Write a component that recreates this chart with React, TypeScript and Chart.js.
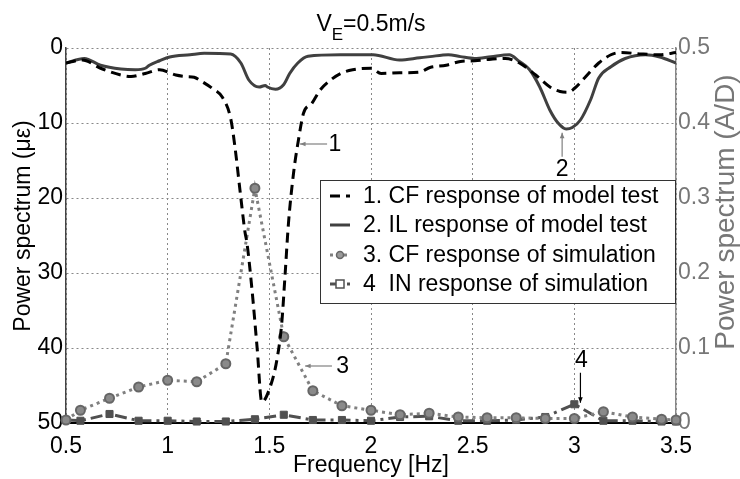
import { useEffect, useRef } from 'react';
import { Chart, registerables } from 'chart.js';

Chart.register(...registerables);

// ---- data ----
const cfTestFreq = [0.50, 0.58, 0.67, 0.77, 0.82, 0.89, 0.96, 1.04, 1.09, 1.13, 1.17, 1.22, 1.27, 1.31, 1.33, 1.36, 1.38, 1.39, 1.415, 1.44, 1.463, 1.504, 1.537, 1.561, 1.578, 1.594, 1.619, 1.643, 1.668, 1.709, 1.75, 1.80, 1.85, 1.91, 2.00, 2.05, 2.14, 2.24, 2.29, 2.37, 2.44, 2.51, 2.59, 2.66, 2.73, 2.81, 2.88, 2.93, 2.97, 3.00, 3.05, 3.12, 3.18, 3.23, 3.33, 3.42, 3.50];
const cfTestValue = [2.0, 1.6, 2.7, 3.6, 3.8, 3.4, 2.9, 3.6, 3.8, 3.9, 4.5, 5.4, 6.6, 9.4, 13.0, 20.0, 24.5, 26.0, 32.3, 40.0, 47.2, 45.2, 41.6, 36.7, 30.0, 23.4, 16.7, 12.3, 8.7, 7.4, 5.6, 4.3, 3.4, 2.9, 2.7, 3.4, 3.3, 3.2, 2.6, 2.3, 1.8, 1.7, 1.5, 1.4, 2.0, 3.6, 5.2, 5.8, 5.9, 5.4, 4.0, 2.0, 0.9, 0.6, 0.8, 0.9, 0.6];

const ilTestFreq = [0.50, 0.59, 0.67, 0.77, 0.84, 0.89, 0.91, 0.96, 1.01, 1.11, 1.18, 1.31, 1.36, 1.40, 1.45, 1.48, 1.49, 1.53, 1.57, 1.60, 1.64, 1.69, 1.85, 2.01, 2.14, 2.24, 2.29, 2.38, 2.44, 2.51, 2.59, 2.68, 2.73, 2.78, 2.83, 2.88, 2.92, 2.96, 2.99, 3.03, 3.08, 3.12, 3.18, 3.25, 3.35, 3.42, 3.50];
const ilTestValue = [2.0, 1.4, 2.3, 2.8, 2.9, 2.7, 2.3, 1.7, 1.2, 0.9, 0.7, 0.8, 2.0, 4.3, 5.2, 5.0, 5.2, 5.5, 4.9, 3.4, 2.0, 1.1, 0.9, 0.9, 1.6, 1.3, 1.15, 0.9, 1.15, 1.4, 1.15, 0.9, 1.8, 2.9, 5.2, 8.3, 10.0, 10.8, 10.6, 9.6, 6.9, 4.0, 2.5, 1.4, 0.9, 1.2, 2.0];

const simFreq = [0.5, 0.571, 0.714, 0.857, 1.0, 1.143, 1.286, 1.429, 1.571, 1.714, 1.857, 2.0, 2.143, 2.286, 2.429, 2.571, 2.714, 2.857, 3.0, 3.143, 3.286, 3.429, 3.5];
const cfSimValue = [0.004, 0.017, 0.033, 0.048, 0.057, 0.055, 0.079, 0.313, 0.115, 0.043, 0.023, 0.017, 0.011, 0.013, 0.008, 0.007, 0.007, 0.006, 0.006, 0.015, 0.008, 0.005, 0.004];
const inSimValue = [0.004, 0.003, 0.012, 0.003, 0.003, 0.002, 0.002, 0.005, 0.011, 0.004, 0.004, 0.003, 0.008, 0.009, 0.003, 0.003, 0.004, 0.008, 0.025, 0.003, 0.003, 0.002, 0.002];

const legendLabels = [
  '1. CF response of model test',
  '2. IL response of model test',
  '3. CF response of simulation',
  '4  IN response of simulation',
];

const xTicks = [0.5, 1, 1.5, 2, 2.5, 3, 3.5];

const FONT = '"Liberation Sans", Arial, Helvetica, sans-serif';

const zip = (xs: number[], ys: number[]) => xs.map((x, i) => ({ x, y: ys[i] }));

const styles = [
  { color: '#000000', width: 3, dash: [10, 6], point: null as any },
  { color: '#404040', width: 3, dash: [] as number[], point: null as any },
  { color: '#808080', width: 3, dash: [3, 4], point: 'circle' },
  { color: '#505050', width: 3, dash: [12, 5, 3, 5], point: 'rect' },
];

function arrow(ctx: CanvasRenderingContext2D, x1: number, y1: number, x2: number, y2: number, color: string) {
  ctx.save();
  ctx.strokeStyle = color;
  ctx.fillStyle = color;
  ctx.lineWidth = 1.2;
  ctx.setLineDash([]);
  ctx.beginPath();
  ctx.moveTo(x1, y1);
  ctx.lineTo(x2, y2);
  ctx.stroke();
  const a = Math.atan2(y2 - y1, x2 - x1);
  const L = 6;
  ctx.beginPath();
  ctx.moveTo(x2, y2);
  ctx.lineTo(x2 - L * Math.cos(a - 0.4), y2 - L * Math.sin(a - 0.4));
  ctx.lineTo(x2 - L * Math.cos(a + 0.4), y2 - L * Math.sin(a + 0.4));
  ctx.closePath();
  ctx.fill();
  ctx.restore();
}

const overlay = {
  id: 'overlay',
  afterDraw(chart: any) {
    const { ctx, chartArea } = chart;
    const sx = chart.scales.x;
    const sy = chart.scales.y;
    const sy1 = chart.scales.y1;
    ctx.save();

    // title with subscript
    ctx.fillStyle = '#000';
    ctx.textBaseline = 'alphabetic';
    const big = `23px ${FONT}`;
    const small = `17px ${FONT}`;
    ctx.font = big;
    const wV = ctx.measureText('V').width;
    const wRest = ctx.measureText('=0.5m/s').width;
    ctx.font = small;
    const wE = ctx.measureText('E').width;
    const total = wV + wE + wRest;
    let tx = (chartArea.left + chartArea.right) / 2 - total / 2;
    const base = 31;
    ctx.font = big;
    ctx.textAlign = 'left';
    ctx.fillText('V', tx, base);
    tx += wV;
    ctx.font = small;
    ctx.fillText('E', tx, base + 9);
    tx += wE;
    ctx.font = big;
    ctx.fillText('=0.5m/s', tx, base);

    // axis titles
    ctx.font = `23px ${FONT}`;
    ctx.fillStyle = '#000';
    ctx.textAlign = 'center';
    ctx.textBaseline = 'middle';
    ctx.fillText('Frequency [Hz]', (chartArea.left + chartArea.right) / 2, 466);

    ctx.save();
    ctx.translate(24, 226);
    ctx.rotate(-Math.PI / 2);
    ctx.fillText('Power spectrum (\u03bc\u03b5)', 0, 0);
    ctx.restore();

    ctx.save();
    ctx.fillStyle = '#777777';
    ctx.font = `28px ${FONT}`;
    ctx.translate(726, 212);
    ctx.rotate(-Math.PI / 2);
    ctx.fillText('Power spectrum (A/D)', 0, 0);
    ctx.restore();

    // annotations
    ctx.font = `23px ${FONT}`;
    ctx.fillStyle = '#000';
    // 1
    arrow(ctx, sx.getPixelForValue(1.784), sy.getPixelForValue(12.8), sx.getPixelForValue(1.651), sy.getPixelForValue(12.8), '#808080');
    ctx.fillText('1', sx.getPixelForValue(1.822), sy.getPixelForValue(12.9));
    // 2
    arrow(ctx, sx.getPixelForValue(2.94), sy.getPixelForValue(14.5), sx.getPixelForValue(2.94), sy.getPixelForValue(11.3), '#808080');
    ctx.fillText('2', sx.getPixelForValue(2.94), sy.getPixelForValue(16.2));
    // 3
    arrow(ctx, sx.getPixelForValue(1.808), sy1.getPixelForValue(0.076), sx.getPixelForValue(1.676), sy1.getPixelForValue(0.076), '#808080');
    ctx.fillText('3', sx.getPixelForValue(1.86), sy1.getPixelForValue(0.075));
    // 4
    arrow(ctx, sx.getPixelForValue(3.03), sy1.getPixelForValue(0.067), sx.getPixelForValue(3.03), sy1.getPixelForValue(0.027), '#000000');
    ctx.fillText('4', sx.getPixelForValue(3.035), sy1.getPixelForValue(0.083));

    // legend box
    const bw = 356, bh = 124;
    const bx = chartArea.right - bw;
    const by = chartArea.top + 132;
    ctx.fillStyle = '#ffffff';
    ctx.fillRect(bx, by, bw, bh);
    ctx.strokeStyle = '#333';
    ctx.lineWidth = 1;
    ctx.setLineDash([]);
    ctx.strokeRect(bx + 0.5, by + 0.5, bw - 1, bh - 1);
    const rowY = [16, 45, 75, 104];
    legendLabels.forEach((lab, i) => {
      const st = styles[i];
      const yy = by + rowY[i];
      ctx.save();
      ctx.strokeStyle = st.color;
      ctx.lineWidth = st.width;
      ctx.setLineDash(st.dash);
      ctx.beginPath();
      ctx.moveTo(bx + 10, yy);
      ctx.lineTo(bx + 30, yy);
      ctx.stroke();
      ctx.setLineDash([]);
      if (st.point === 'circle') {
        ctx.fillStyle = '#9a9a9a';
        ctx.strokeStyle = '#666';
        ctx.lineWidth = 1.5;
        ctx.beginPath();
        ctx.arc(bx + 20, yy, 3.5, 0, Math.PI * 2);
        ctx.fill();
        ctx.stroke();
      } else if (st.point === 'rect') {
        ctx.fillStyle = '#ffffff';
        ctx.strokeStyle = '#505050';
        ctx.lineWidth = 1.5;
        ctx.fillRect(bx + 16, yy - 4, 8, 8);
        ctx.strokeRect(bx + 16, yy - 4, 8, 8);
      }
      ctx.restore();
      ctx.fillStyle = '#000';
      ctx.font = `23px ${FONT}`;
      ctx.textAlign = 'left';
      ctx.textBaseline = 'middle';
      ctx.fillText(lab, bx + 43, yy + 1);
    });

    ctx.restore();
  },
};

export default function App() {
  const ref = useRef<HTMLCanvasElement>(null);
  useEffect(() => {
    document.body.style.margin = '0';
    Chart.defaults.font.family = FONT;
    const chart = new Chart(ref.current as HTMLCanvasElement, {
      type: 'line',
      data: {
        datasets: [
          {
            label: legendLabels[0],
            data: zip(cfTestFreq, cfTestValue),
            yAxisID: 'y',
            borderColor: styles[0].color,
            borderWidth: styles[0].width,
            borderDash: styles[0].dash,
            pointRadius: 0,
            cubicInterpolationMode: 'monotone',
            fill: false,
          },
          {
            label: legendLabels[1],
            data: zip(ilTestFreq, ilTestValue),
            yAxisID: 'y',
            borderColor: styles[1].color,
            borderWidth: styles[1].width,
            pointRadius: 0,
            cubicInterpolationMode: 'monotone',
            fill: false,
          },
          {
            label: legendLabels[2],
            data: zip(simFreq, cfSimValue),
            yAxisID: 'y1',
            borderColor: styles[2].color,
            borderWidth: styles[2].width,
            borderDash: styles[2].dash,
            pointStyle: 'circle',
            pointRadius: 4.5,
            pointBackgroundColor: '#8a8a8a',
            pointBorderColor: '#666666',
            pointBorderWidth: 2,
            tension: 0,
            fill: false,
            clip: 8,
          },
          {
            label: legendLabels[3],
            data: zip(simFreq, inSimValue),
            yAxisID: 'y1',
            borderColor: styles[3].color,
            borderWidth: styles[3].width,
            borderDash: styles[3].dash,
            pointStyle: 'rect',
            pointRadius: 5,
            pointBackgroundColor: '#505050',
            pointBorderColor: '#505050',
            pointBorderWidth: 1,
            tension: 0,
            fill: false,
            clip: 8,
          },
        ],
      } as any,
      options: {
        responsive: false,
        animation: false,
        events: [],
        layout: { padding: { top: 48, left: 0, right: 0, bottom: 0 } },
        plugins: {
          legend: { display: false },
          tooltip: { enabled: false },
          title: { display: false },
        },
        scales: {
          x: {
            type: 'linear',
            min: 0.5,
            max: 3.5,
            afterBuildTicks: (s: any) => {
              s.ticks = xTicks.map((v) => ({ value: v }));
            },
            afterFit: (s: any) => {
              s.height = 56;
            },
            ticks: {
              autoSkip: false,
              maxRotation: 0,
              padding: 10,
              color: '#000',
              font: { size: 23, family: FONT },
              callback: (v: any) => String(Math.round(Number(v) * 10) / 10),
            },
            grid: { color: '#888', lineWidth: 1, drawTicks: false },
            border: { display: true, color: '#000', width: 2, dash: [2, 3] },
          },
          y: {
            position: 'left',
            reverse: true,
            min: 0,
            max: 50,
            afterFit: (s: any) => {
              s.width = 66;
            },
            ticks: {
              stepSize: 10,
              padding: 3,
              color: '#000',
              font: { size: 23, family: FONT },
            },
            grid: { color: '#888', lineWidth: 1, drawTicks: false },
            border: { display: true, color: '#444', width: 1.5, dash: [2, 3] },
          },
          y1: {
            position: 'right',
            min: 0,
            max: 0.5,
            afterFit: (s: any) => {
              s.width = 64;
            },
            ticks: {
              stepSize: 0.1,
              padding: 2,
              color: '#777',
              font: { size: 23, family: FONT },
              callback: (v: any) => String(Math.round(Number(v) * 10) / 10),
            },
            grid: { display: false, drawTicks: false },
            border: { display: true, color: '#888', width: 1.5 },
          },
        },
      } as any,
      plugins: [overlay],
    });
    return () => chart.destroy();
  }, []);
  return <canvas ref={ref} width={740} height={479} style={{ display: 'block' }} />;
}
